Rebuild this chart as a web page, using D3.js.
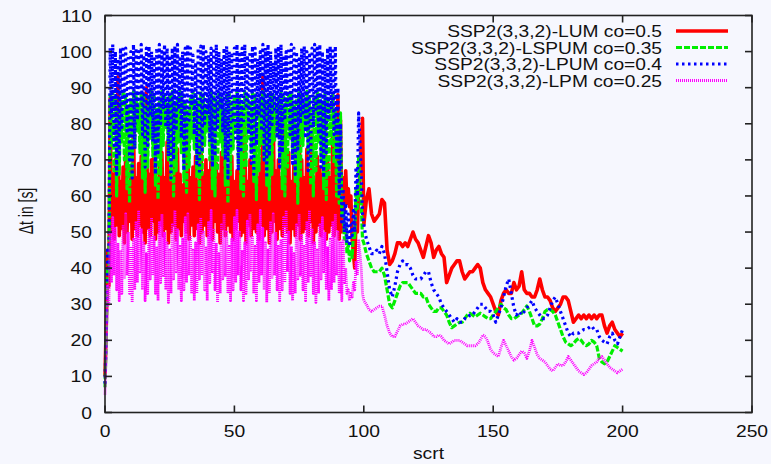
<!DOCTYPE html>
<html><head><meta charset="utf-8">
<script src="https://cdn.jsdelivr.net/npm/d3@7"></script>
<style>body{margin:0;background:#f6f7fe}svg{display:block}</style>
</head><body><svg id="chart" width="771" height="464"></svg>
<script>
// ---------- data ----------
const seriesNames = ["SSP2(3,3,2)-LUM co=0.5","SSP2(3,3,2)-LSPUM co=0.35","SSP2(3,3,2)-LPUM co=0.4","SSP2(3,3,2)-LPM co=0.25"];
const seriesColors = ["#ff0000","#00ee00","#0000ff","#ff00ff"];
const xTicks = [0,50,100,150,200,250];
const yTicks = [0,10,20,30,40,50,60,70,80,90,100,110];
const xLabel = "scrt";
const yLabel = "Δt in [s]";
// phase A: values at x = 0,1,...,99 ; phase B: values at x = 0.5,1.5,...,99.5 ; tail: x = 100..200
const redA = [10,45,
87,66,70,93,64,68,72,63,67,82, 65,69,71,64,90,66,70,80,63,68, 72,65,75,67,64,70,73,66,63,69,
77,65,68,71,64,82,66,70,67,73, 64,69,66,72,78,65,68,71,64,67, 73,66,79,64,70,68,72,65,69,93,
66,71,64,83,67,70,65,81,68,72, 64,69,66,85,70,65,73,67,78,64, 71,68,66,82,70,65,77,69,88,81,
65,67,62,60,44,55,62,74];
const redB = [25,35,
50,48,52,49,51,47,50,53,48,51, 49,52,50,47,51,49,53,48,50,52, 49,51,47,50,52,48,51,49,53,50,
48,52,49,51,47,50,52,49,51,48, 53,50,47,51,49,52,50,48,51,53, 49,50,47,52,49,51,50,48,52,49,
51,47,50,53,48,51,49,52,50,47, 51,49,52,48,50,51,49,53,47,50, 52,49,51,48,50,52,49,51,48,50,
56,58,57,48,40,50,66,81.5];
const redTail = [52,59,62,55,53,54,55,59,58,45, 41,42,44,47,47,46,47,46,48,50, 48,47,45,43,46,49,47,43,45,46,
44,43,36,38,40,41,42,42,39,37, 38,39,39,40,41,40,36,34,33,32, 30,28,27,31,33,34,33,33,36,34,
35,39,34,33,33,32,32,34,37,34, 32,32,31,29,28,29,30,32,32,31, 28,25,26,27,26,27,26,27,26,27,
26,27,27,24,22,24,25,23,22,21, 22];

const greenA = [7,40,
88,89,87,84,86,89,88,85,87,89, 88,86,89,88,85,87,89,88,84,86, 89,88,86,88,89,85,87,89,88,86,
84,87,89,88,86,89,88,85,87,89, 88,86,89,87,84,88,89,86,88,89, 87,85,89,88,86,89,88,84,87,89,
88,86,89,88,85,87,89,88,86,89, 88,85,87,89,88,86,89,87,84,88, 89,88,86,89,87,85,88,84,80,83,
56,52,47,45,50,62,71,58];
const greenB = [22,38,
74,67,60,66,75,70,62,58,65,73, 78,72,65,61,68,76,71,63,59,66, 74,79,70,64,60,67,75,72,64,61,
68,76,73,65,59,66,74,78,70,62, 60,67,75,71,63,58,66,73,77,69, 62,60,68,76,72,64,59,67,74,70,
63,59,66,75,78,70,62,60,68,76, 71,64,58,65,74,79,72,63,60,67, 75,70,62,59,66,74,69,60,58,55,
48,44,42,43,48,56,64,48];
const greenTail = [47,44,42,40,39,39,39,40,38,34, 30,29,31,33,35,36,36,36,35,34, 33,33,33,32,32,30,29,28,28,29,
29,28,27,25,23.5,24,24.5,25,25,26, 27,27.5,27,26.5,27,27.5,27,26.5,26,26, 27,28,29,30,29,28.5,27,26,26,26.5,
27,27.5,28.5,29.5,28,26,24,24,24.5,26, 28,28.5,28.5,28,27,25,23,21,19.5,19, 18.5,19,20,20.5,20,19,18.5,19,20,19.5,
18.5,15,14,13.5,14,15.5,17,18.5,18,17.5, 17];

const blueA = [8,45,
101,102,100,98,101,101.5,101,99,100,102, 101,100,102,99,101,101.5,100,98,101,102, 100,102,101,99,101,101.5,102,98,100,101,
102,101,99,97,101,101.5,102,100,99,101, 101,102,100,98,101,101.5,100,99,101,102, 100,101,102,99,100,101.5,101,98,100,102,
101,102,100,97,101,101.5,102,99,100,101, 102,101,100,98,101,101.5,100,99,101,102, 101,102,100,98,101,101.5,101,101.5,90,80,
62,58,55,52,56,68,83,66];
const blueB = [24,40,
82,74,66,71,79,85,78,70,65,73, 81,86,77,68,74,82,75,66,72,80, 84,79,71,65,70,78,84,76,67,73,
81,85,77,69,66,72,80,83,75,68, 71,79,84,78,70,65,73,81,76,67, 72,80,85,77,69,66,74,82,78,70,
65,71,79,84,76,68,72,81,85,77, 69,66,73,80,83,76,67,71,79,84, 77,68,65,72,81,84,77,70,60,52,
50,47,46,49,50,60,75,55];
const blueTail = [52,48,46,44,44,45,44,46,44,39, 34,32,35,39,41,42,41,41,40,38, 37,37,37,38,39,39,36,34,33,32,
30,29,28,27,26,25,26,25,25,26, 26,27,27,28,29,30,30,29,28,28, 27,25,27,29,32,35,37,33,29,27,
28,27,28,29,30,31,29,28,27,26, 26,27,29,31,32,30,28,26,24,22, 21,22,22,22,22.5,23,23,23.5,24,23,
23,21,20,19.5,19,21,22,20,19,21, 23];

const magentaA = [5,35,
50,54,51,47,45, 52,55,50,46,48, 53,56,51,47,44, 51,54,49,46, 53,55,50,47,45, 52,56,51,46,48,
54,55,49,45,47, 52,54,50,46, 53,56,51,47,44, 52,55,50,46,48, 54,56,50,45,47, 53,55,49,46,
52,56,51,47,45, 53,55,50,46,48, 54,56,50,46,44, 52,55,49,46, 53,56,51,47,45, 52,54,50,46,48, 53,55,50,47,
48,40,34,33,36,42,48,40];
const magentaB = [18,30,
36,38,34,31,33, 37,38,33,30.5,34, 36,39,34,31,33, 37,38,33,31, 36,38,34,30.5,33, 37,39,34,31,34,
36,38,33,31,33, 37,38,34,31, 36,39,34,30.5,33, 37,38,33,31,34, 36,38,34,31,33, 37,39,33,31,
36,38,34,30.5,33, 37,38,34,31,34, 36,39,33,31,33, 37,38,34,31, 36,38,33,30.5,33, 37,39,34,31,34, 36,38,33,31,
36,33,31,32,34,38,44,33];
const magentaTail = [31,30,28.5,28,28.5,29,29.5,29.5,27,24, 22,21,21,22.5,24,24.5,24.5,25,25.5,26, 25,24,23.5,23,23,22.5,22,21,21,21.5,
21,20,19.5,19,19.5,20,20,20,19.5,19, 18.5,18.5,18.5,18.5,19,20,21.5,21,19.5,17.5, 16.5,16,15.5,18,20,18.5,17,15.5,14.5,15,
16,17,16.5,15,17,20,18,16,15,14.5, 14,13,12,11.5,12.5,13.5,13,13,14,15.5, 14.5,13.5,12.5,11.5,11,10.5,11,12,13,13.5,
14,15,15.5,14.5,13.5,12.5,12,11.5,11,11.5, 12];

const phaseA = [redA, greenA, blueA, magentaA];
const phaseB = [redB, greenB, blueB, magentaB];
const tails = [redTail, greenTail, blueTail, magentaTail];
const halfStep = 0.5, tailStart = 100;

// ---------- layout ----------
const W = 771, H = 464;
const mLeft = 105, mRight = 752, mTop = 15.5, mBottom = 412.5;
const svg = d3.select("#chart");
svg.append("rect").attr("width",W).attr("height",H).attr("fill","#f6f7fe");

const x = d3.scaleLinear().domain([0,250]).range([mLeft,mRight]);
const y = d3.scaleLinear().domain([0,110]).range([mBottom,mTop]);

function buildPoints(a,b,t){
  const pts=[];
  for(let i=0;i<a.length;i++){ pts.push([i,a[i]]); pts.push([i+halfStep,b[i]]); }
  t.forEach((v,j)=>pts.push([tailStart+j,v]));
  return pts;
}
const styles = [
  {w:3.6, dash:null},
  {w:3.2, dash:"6,2"},
  {w:3.2, dash:"2.5,3.5"},
  {w:2.8, dash:"1,1"}
];
const line = d3.line().x(d=>x(d[0])).y(d=>y(d[1]));
const gLines = svg.append("g");
seriesNames.forEach((n,k)=>{
  const p = gLines.append("path").datum(buildPoints(phaseA[k],phaseB[k],tails[k]))
    .attr("d",line).attr("fill","none").attr("stroke",seriesColors[k])
    .attr("stroke-width",styles[k].w).attr("stroke-linejoin","round");
  if(styles[k].dash) p.attr("stroke-dasharray",styles[k].dash);
});

// ---------- axes / border ----------
const axisColor = "#222";
const gAx = svg.append("g").attr("stroke",axisColor).attr("stroke-width",1.6);
const tl = 7;
yTicks.forEach(v=>{
  gAx.append("line").attr("x1",mLeft).attr("x2",mLeft+tl).attr("y1",y(v)).attr("y2",y(v));
  gAx.append("line").attr("x1",mRight).attr("x2",mRight-tl).attr("y1",y(v)).attr("y2",y(v));
});
xTicks.forEach(v=>{
  gAx.append("line").attr("x1",x(v)).attr("x2",x(v)).attr("y1",mBottom).attr("y2",mBottom-tl);
  gAx.append("line").attr("x1",x(v)).attr("x2",x(v)).attr("y1",mTop).attr("y2",mTop+tl);
});
gAx.append("rect").attr("x",mLeft).attr("y",mTop).attr("width",mRight-mLeft).attr("height",mBottom-mTop).attr("fill","none");

const font = "'Liberation Sans', Arial, sans-serif";
function sText(px,py,str,anchor,size,sx){
  svg.append("g").attr("transform",`translate(${px},${py}) scale(${sx||1.2},1)`)
    .append("text").attr("text-anchor",anchor).attr("font-family",font).attr("font-size",size)
    .attr("fill","#111").text(str);
}
yTicks.forEach(v=>sText(92,y(v)+6,String(v),"end",16.5,1.17));
xTicks.forEach(v=>sText(x(v),437,String(v),"middle",16.5,1.17));
sText((mLeft+mRight)/2,459,xLabel,"middle",16.5,1.17);
svg.append("g").attr("transform",`translate(33,211) rotate(-90) scale(0.82,1.18)`)
  .append("text").attr("text-anchor","middle").attr("font-family",font).attr("font-size",17)
  .attr("fill","#111").text(yLabel);

// ---------- legend ----------
const legY = [31,47.5,64,80.5];
seriesNames.forEach((n,k)=>{
  sText(662,legY[k]+6,n,"end",16,1.2);
  const l = svg.append("line").attr("x1",676).attr("x2",728).attr("y1",legY[k]).attr("y2",legY[k])
    .attr("stroke",seriesColors[k]).attr("stroke-width",styles[k].w);
  if(styles[k].dash) l.attr("stroke-dasharray",styles[k].dash);
});
</script></body></html>
